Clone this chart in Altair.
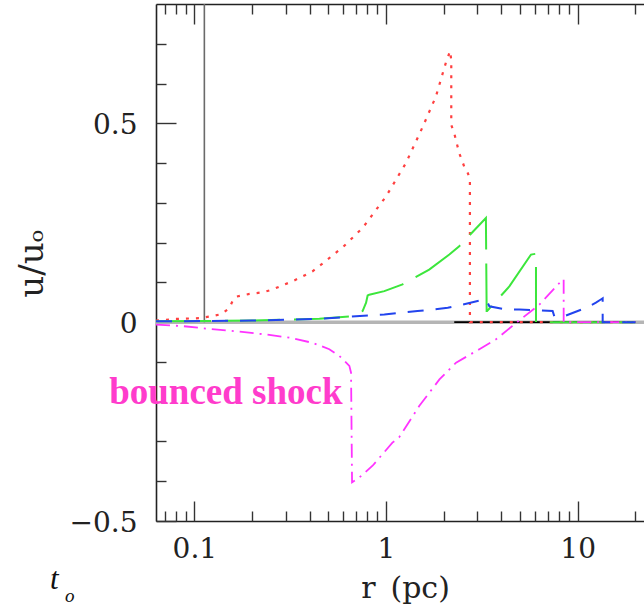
import altair as alt
import pandas as pd

# ---------------- data ----------------
gray_r = [0.0631, 22.18]
gray_u = [0.0, 0.0]
spike_r = [0.1128, 0.1128]
spike_u = [0.0, 0.8]
black_r = [2.27, 20.0]
black_u = [0.0, 0.0]

red_r = [0.0631, 0.080, 0.106, 0.120, 0.138, 0.152, 0.158, 0.165, 0.194, 0.227, 0.256,
         0.289, 0.326, 0.367, 0.414, 0.46, 0.60, 0.755, 1.0, 1.27, 1.55, 1.82, 2.06, 2.16,
         2.19, 2.19, 2.27, 2.41, 2.56, 2.67, 2.74, 2.74, 20.0]
red_u = [0.004, 0.008, 0.010, 0.014, 0.020, 0.035, 0.052, 0.064, 0.071, 0.075, 0.082,
         0.093, 0.103, 0.115, 0.128, 0.145, 0.190, 0.237, 0.316, 0.400, 0.490, 0.567, 0.655, 0.682,
         0.659, 0.496, 0.475, 0.425, 0.391, 0.375, 0.360, 0.0, 0.0]

green_r = [0.0631, 0.20, 0.449, 0.670, 0.755, 0.787, 0.802, 0.818, 0.98, 1.22, 1.68, 2.14,
           2.41, 3.32, 3.35, 3.37, 4.40, 5.71, 6.06, 6.06, 20.0]
green_u = [0.002, 0.004, 0.0085, 0.015, 0.028, 0.049, 0.067, 0.069, 0.078, 0.095, 0.132, 0.170,
           0.191, 0.262, 0.028, 0.028, 0.090, 0.170, 0.172, 0.0, 0.0]

blue_r = [0.0631, 0.20, 0.449, 0.818, 0.98, 1.20, 1.46, 1.79, 2.10, 2.51, 3.07, 3.33, 3.46,
          4.23, 4.96, 7.40, 7.55, 8.51, 11.05, 12.45, 13.2, 13.5, 13.5, 20.0]
blue_u = [0.002, 0.004, 0.0085, 0.017, 0.019, 0.024, 0.028, 0.032, 0.036, 0.044, 0.054, 0.057, 0.040,
          0.032, 0.032, 0.028, 0.015, 0.015, 0.036, 0.049, 0.057, 0.060, 0.0, 0.0]

magenta_r = [0.0631, 0.0869, 0.120, 0.165, 0.237, 0.313, 0.414, 0.506, 0.571, 0.644, 0.657,
             0.665, 0.72, 0.851, 1.08, 1.17, 1.49, 1.90, 2.32, 3.07, 3.75, 4.77, 6.31, 8.34,
             8.45, 8.45, 20.0]
magenta_u = [-0.006, -0.010, -0.017, -0.023, -0.031, -0.039, -0.052, -0.068, -0.085, -0.110, -0.127,
             -0.403, -0.392, -0.361, -0.303, -0.290, -0.211, -0.144, -0.102, -0.068, -0.043, -0.002,
             0.044, 0.107, 0.108, 0.0, 0.0]

note_text = ["bounced shock"]
note_r = [0.146]
note_u = [-0.206]

x_major = [0.1, 1, 10]
x_minor = [0.07, 0.08, 0.09, 0.2, 0.3, 0.4, 0.5, 0.6, 0.7, 0.8, 0.9,
           2, 3, 4, 5, 6, 7, 8, 9, 20]
y_major = [-0.5, 0, 0.5]
y_minor = [-0.4, -0.3, -0.2, -0.1, 0.1, 0.2, 0.3, 0.4, 0.6, 0.7]

# ---------------- helpers ----------------
def frame(r, u):
    return pd.DataFrame({"r": r, "u": u, "i": list(range(len(r)))})

xs = alt.Scale(type="log", domain=[0.0631, 22.18], nice=False)
ys = alt.Scale(domain=[-0.5, 0.8], nice=False, zero=False)

SERIF = "DejaVu Serif"
INK = "#222222"


def series_line(r, u, color, width, dash=None):
    kw = dict(color=color, strokeWidth=width, clip=True, strokeCap="butt")
    if dash:
        kw["strokeDash"] = dash
    return alt.Chart(frame(r, u)).mark_line(**kw).encode(
        x=alt.X("r:Q", scale=xs, axis=None),
        y=alt.Y("u:Q", scale=ys, axis=None),
        order=alt.Order("i:Q"),
    )


# main layer (carries labelled axes)
main = alt.Chart(frame(gray_r, gray_u)).mark_line(
    color="#b5b5b5", strokeWidth=3.5, clip=True
).encode(
    x=alt.X("r:Q", scale=xs, axis=alt.Axis(
        orient="bottom", values=x_major, format="~g", ticks=False, grid=False,
        domain=True, domainColor=INK, domainWidth=1.6,
        labelFont=SERIF, labelFontSize=28, labelColor=INK, labelPadding=14,
        labelFlush=False, labelOverlap=False,
        title="r\u2002(pc)", titleFont=SERIF, titleFontSize=30, titleFontWeight="normal",
        titleColor=INK, titleX=249, titleY=76, titleBaseline="alphabetic", titleAlign="center")),
    y=alt.Y("u:Q", scale=ys, axis=alt.Axis(
        orient="left", values=y_major, format="~g", ticks=False, grid=False,
        domain=True, domainColor=INK, domainWidth=1.6,
        labelFont=SERIF, labelFontSize=28, labelColor=INK, labelPadding=19, labelOffset=2,
        labelFlush=False, labelOverlap=False,
        title="u/u\u2092", titleFont=SERIF, titleFontSize=34, titleFontWeight="normal",
        titleColor=INK, titleX=-114, titleY=259, titleAngle=270,
        titleBaseline="alphabetic", titleAlign="center")),
    order=alt.Order("i:Q"),
)


def tick_layer(xaxis, yaxis):
    return alt.Chart(frame(gray_r, gray_u)).mark_line(opacity=0).encode(
        x=alt.X("r:Q", scale=xs, axis=xaxis),
        y=alt.Y("u:Q", scale=ys, axis=yaxis),
        order=alt.Order("i:Q"),
    )


def tick_axis(orient, values, size, **extra):
    return alt.Axis(orient=orient, values=values, offset=-size, tickSize=size,
                    ticks=True, labels=False, domain=False, grid=False, title=None,
                    tickColor="#333333", tickWidth=1.4, **extra)


t_major = tick_layer(tick_axis("bottom", x_major, 20), tick_axis("left", y_major, 20))
t_minor = tick_layer(tick_axis("bottom", x_minor, 10), tick_axis("left", y_minor, 10))
top_major = tick_layer(tick_axis("top", x_major, 20), None)
top_minor = tick_layer(tick_axis("top", x_minor, 10), None)
top_domain = tick_layer(
    alt.Axis(orient="top", ticks=False, labels=False, domain=True, domainColor=INK,
             domainWidth=1.6, grid=False, title=None),
    None)

spike = series_line(spike_r, spike_u, "#6a6a6a", 1.6)
black = series_line(black_r, black_u, "#000000", 1.6)
red = series_line(red_r, red_u, "#ff4040", 2.2, [3, 7])
green = series_line(green_r, green_u, "#3ce63c", 2.0, [55, 14])
magenta = series_line(magenta_r, magenta_u, "#ff33ff", 1.8, [14, 6, 2, 6])
blue = series_line(blue_r, blue_u, "#2244ee", 2.0, [16, 12])

note = alt.Chart(pd.DataFrame({"t": note_text, "r": note_r, "u": note_u})).mark_text(
    font="Liberation Serif", fontSize=37, fontWeight="bold", color="#ff3ccc",
    align="center", baseline="alphabetic"
).encode(
    x=alt.X("r:Q", scale=xs, axis=None),
    y=alt.Y("u:Q", scale=ys, axis=None),
    text="t:N",
)

t_label = alt.Chart(pd.DataFrame({"t": ["t"]})).mark_text(
    font="Liberation Serif", fontSize=31, fontStyle="italic", color="#111111",
    align="left", baseline="alphabetic"
).encode(x=alt.value(-106), y=alt.value(585), text="t:N")

o_label = alt.Chart(pd.DataFrame({"t": ["o"]})).mark_text(
    font="Liberation Serif", fontSize=19, fontStyle="italic", color="#111111",
    align="left", baseline="alphabetic"
).encode(x=alt.value(-91), y=alt.value(598), text="t:N")

chart = alt.layer(
    main, t_major, t_minor, top_domain, top_major, top_minor,
    spike, black, red, green, magenta, blue, note, t_label, o_label
).resolve_axis(
    x="independent", y="independent"
).properties(
    width=488, height=517,
    autosize=alt.AutoSizeParams(type="none"),
    padding={"left": 156, "top": 4, "right": 0, "bottom": 90},
).configure_view(stroke=None).configure(background="white")

chart.save("out.html", embed_options={"renderer": "svg", "actions": False})
